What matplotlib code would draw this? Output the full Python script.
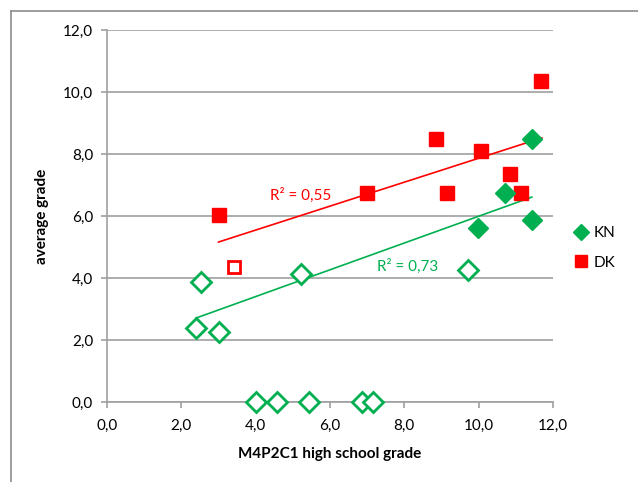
import matplotlib.pyplot as plt
from matplotlib.lines import Line2D

plt.rcParams['font.family'] = ['Lato', 'DejaVu Sans']

# DK (red) - filled
dk_x = [11.69, 8.85, 10.06, 10.84, 6.99, 9.14, 11.13, 3.01]
dk_y = [10.36, 8.48, 8.11, 7.35, 6.73, 6.73, 6.73, 6.03]
# DK - open
dk_open_x = [3.42]
dk_open_y = [4.36]

# KN (green) - filled
kn_x = [11.43, 10.71, 9.99, 11.43]
kn_y = [8.48, 6.75, 5.60, 5.87]
# KN - open
kn_open_x = [2.53, 5.21, 9.72, 2.39, 3.02, 4.01, 4.58, 5.43, 6.87, 7.15]
kn_open_y = [3.86, 4.13, 4.26, 2.38, 2.27, 0.0, 0.0, 0.0, 0.0, 0.0]

# trend lines (endpoints)
dk_trend_x = [3.0, 11.7]
dk_trend_y = [5.16, 8.52]
kn_trend_x = [2.4, 11.43]
kn_trend_y = [2.71, 6.61]

ticks = [0, 2, 4, 6, 8, 10, 12]
tick_labels = ['0,0', '2,0', '4,0', '6,0', '8,0', '10,0', '12,0']

RED = '#FF0000'
GREEN = '#00B050'
GRID = '#A0A0A0'

fig = plt.figure(figsize=(6.38, 4.82), dpi=100)
ax = fig.add_axes([107/638, 80/482, 446/638, 372/482])

ax.set_xlim(0, 12)
ax.set_ylim(0, 12)
ax.set_xticks(ticks)
ax.set_yticks(ticks)
ax.set_xticklabels(tick_labels)
ax.set_yticklabels(tick_labels)
ax.yaxis.grid(True, color=GRID, linewidth=1.2)
ax.set_axisbelow(True)
for s in ['top', 'right']:
    ax.spines[s].set_visible(False)
for s in ['left', 'bottom']:
    ax.spines[s].set_color(GRID)
    ax.spines[s].set_linewidth(1.2)
ax.tick_params(colors=GRID, labelcolor='black', labelsize=11, length=4,
               direction='out', width=1.2)
ax.tick_params(axis='x', pad=8)
ax.tick_params(axis='y', pad=6)

ax.plot(dk_trend_x, dk_trend_y, color=RED, lw=1.2, zorder=2)
ax.plot(kn_trend_x, kn_trend_y, color=GREEN, lw=1.2, zorder=2)

ax.plot(kn_open_x, kn_open_y, 'D', ms=10, mfc='white', mec=GREEN, mew=2,
        ls='none', clip_on=False, zorder=3)
ax.plot(dk_open_x, dk_open_y, 's', ms=8.5, mfc='white', mec=RED, mew=2,
        ls='none', clip_on=False, zorder=3)
ax.plot(dk_x, dk_y, 's', ms=10, color=RED, ls='none', clip_on=False, zorder=4)
ax.plot(kn_x, kn_y, 'D', ms=10, color=GREEN, ls='none', clip_on=False, zorder=5)

ax.text(4.39, 6.68, 'R² = 0,55', color=RED, fontsize=11, va='center')
ax.text(7.26, 4.39, 'R² = 0,73', color=GREEN, fontsize=11, va='center')

ax.set_xlabel('M4P2C1 high school grade', fontsize=11, fontweight='bold',
              labelpad=10)
ax.set_ylabel('average grade', fontsize=11, fontweight='bold', labelpad=10)

# legend outside plot area
handles = [Line2D([], [], marker='D', color=GREEN, ls='none', ms=8),
           Line2D([], [], marker='s', color=RED, ls='none', ms=9)]
fig.legend(handles, ['KN', 'DK'], loc='center left',
           bbox_to_anchor=(558/638, 1 - 248/482), frameon=False,
           fontsize=11, handletextpad=0.2, labelspacing=1.0,
           handlelength=1.2)

# outer chart border (top and left)
fig.add_artist(Line2D([11/638, 1], [1 - 11/482, 1 - 11/482],
                      color='#8C8C8C', lw=1.2))
fig.add_artist(Line2D([11/638, 11/638], [0, 1 - 11/482],
                      color='#8C8C8C', lw=1.2))

fig.savefig('out.png', dpi=100)
